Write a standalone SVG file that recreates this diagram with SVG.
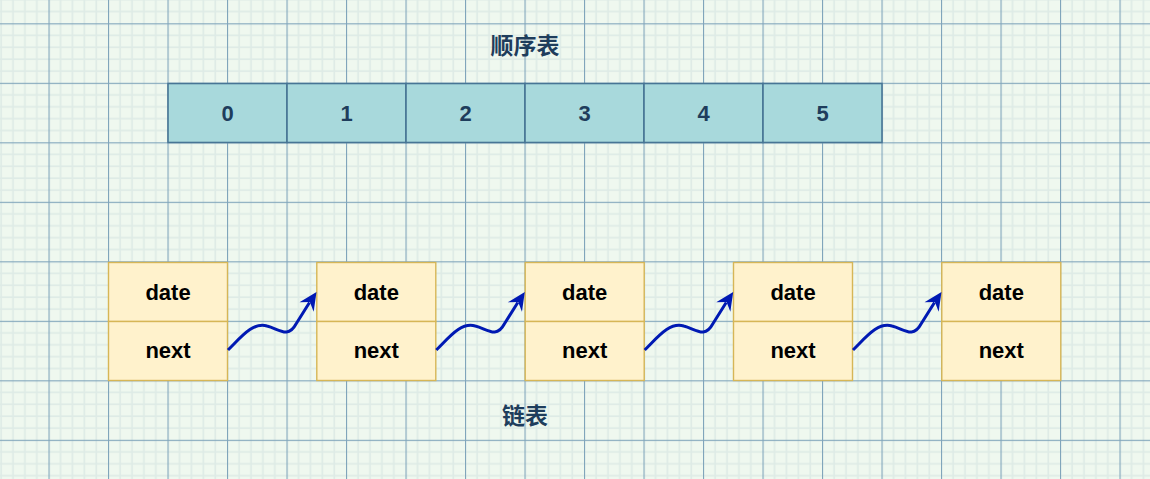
<svg xmlns="http://www.w3.org/2000/svg" width="1150" height="479" viewBox="0 0 1150 479">
  <defs>
    <pattern id="grid" patternUnits="userSpaceOnUse" x="48.5" y="23.3" width="59.5" height="59.5">
      <rect width="59.5" height="59.5" fill="#eff8ef"/>
      <g fill="#deebe6">
        <rect x="11.3" y="0" width="1.6" height="59.5"/>
        <rect x="23.2" y="0" width="1.6" height="59.5"/>
        <rect x="35.1" y="0" width="1.6" height="59.5"/>
        <rect x="47.0" y="0" width="1.6" height="59.5"/>
        <rect x="0" y="11.3" width="59.5" height="1.6"/>
        <rect x="0" y="23.2" width="59.5" height="1.6"/>
        <rect x="0" y="35.1" width="59.5" height="1.6"/>
        <rect x="0" y="47.0" width="59.5" height="1.6"/>
      </g>
      <g fill="#80a5bb">
        <rect x="0" y="0" width="1.1" height="59.5"/>
        <rect x="0" y="0" width="59.5" height="1.1"/>
      </g>
    </pattern>
    <style>
      .cell { fill: #a8d9dc; stroke: #477595; stroke-width: 1.6; }
      .num { font-family: "Liberation Sans", Arial, sans-serif; font-weight: bold; font-size: 22px; fill: #1e3d5c; text-anchor: middle; dominant-baseline: central; }
      .box { fill: #fff2cc; stroke: #d6b656; stroke-width: 1.4; }
      .lbl { font-family: "Liberation Sans", Arial, sans-serif; font-weight: bold; font-size: 22px; fill: #000000; text-anchor: middle; dominant-baseline: central; }
      .title { font-family: "Liberation Sans", "Noto Sans CJK SC", sans-serif; font-weight: bold; font-size: 23px; fill: #1e3d5c; text-anchor: middle; dominant-baseline: central; }
      .link { fill: none; stroke: #0019b3; stroke-width: 3; stroke-linejoin: round; }
      .head { fill: #0019b3; }
    </style>
    <path id="ahead" class="head" d="M0,0 L-18,-8.5 L-12,0 L-18,8.5 Z"/>
  </defs>

  <rect width="1150" height="479" fill="url(#grid)"/>

  <g id="title-seq"><text class="title" x="525" y="46">顺序表</text></g>

  <g id="array">
    <g id="cell0"><rect class="cell" x="168" y="83.5" width="119" height="59"/><text class="num" x="227.5" y="113">0</text></g>
    <g id="cell1"><rect class="cell" x="287" y="83.5" width="119" height="59"/><text class="num" x="346.5" y="113">1</text></g>
    <g id="cell2"><rect class="cell" x="406" y="83.5" width="119" height="59"/><text class="num" x="465.5" y="113">2</text></g>
    <g id="cell3"><rect class="cell" x="525" y="83.5" width="119" height="59"/><text class="num" x="584.5" y="113">3</text></g>
    <g id="cell4"><rect class="cell" x="644" y="83.5" width="119" height="59"/><text class="num" x="703.5" y="113">4</text></g>
    <g id="cell5"><rect class="cell" x="763" y="83.5" width="119" height="59"/><text class="num" x="822.5" y="113">5</text></g>
  </g>

  <g id="node1">
    <rect class="box" x="108.5" y="262.5" width="119" height="59"/>
    <rect class="box" x="108.5" y="321.5" width="119" height="59"/>
    <text class="lbl" x="168" y="292">date</text>
    <text class="lbl" x="168" y="350">next</text>
  </g>
  <g id="node2">
    <rect class="box" x="316.8" y="262.5" width="119" height="59"/>
    <rect class="box" x="316.8" y="321.5" width="119" height="59"/>
    <text class="lbl" x="376.3" y="292">date</text>
    <text class="lbl" x="376.3" y="350">next</text>
  </g>
  <g id="node3">
    <rect class="box" x="525.2" y="262.5" width="119" height="59"/>
    <rect class="box" x="525.2" y="321.5" width="119" height="59"/>
    <text class="lbl" x="584.7" y="292">date</text>
    <text class="lbl" x="584.7" y="350">next</text>
  </g>
  <g id="node4">
    <rect class="box" x="733.5" y="262.5" width="119" height="59"/>
    <rect class="box" x="733.5" y="321.5" width="119" height="59"/>
    <text class="lbl" x="793" y="292">date</text>
    <text class="lbl" x="793" y="350">next</text>
  </g>
  <g id="node5">
    <rect class="box" x="941.8" y="262.5" width="119" height="59"/>
    <rect class="box" x="941.8" y="321.5" width="119" height="59"/>
    <text class="lbl" x="1001.3" y="292">date</text>
    <text class="lbl" x="1001.3" y="350">next</text>
  </g>

  <g id="title-list"><text class="title" x="525" y="416">链表</text></g>

  <g id="connectors">
    <g id="link1">
      <path class="link" d="M228,350 C242,336 253,322 267,326 C279,329 288,339 296,324 L309.5,302.5"/>
      <use href="#ahead" transform="translate(316.5,292) rotate(-56.5)"/>
    </g>
    <g id="link2">
      <path class="link" d="M436.3,350 C450.3,336 461.3,322 475.3,326 C487.3,329 496.3,339 504.3,324 L517.8,302.5"/>
      <use href="#ahead" transform="translate(524.8,292) rotate(-56.5)"/>
    </g>
    <g id="link3">
      <path class="link" d="M644.7,350 C658.7,336 669.7,322 683.7,326 C695.7,329 704.7,339 712.7,324 L726.2,302.5"/>
      <use href="#ahead" transform="translate(733.2,292) rotate(-56.5)"/>
    </g>
    <g id="link4">
      <path class="link" d="M853,350 C867,336 878,322 892,326 C904,329 913,339 921,324 L934.5,302.5"/>
      <use href="#ahead" transform="translate(941.5,292) rotate(-56.5)"/>
    </g>
  </g>
</svg>
